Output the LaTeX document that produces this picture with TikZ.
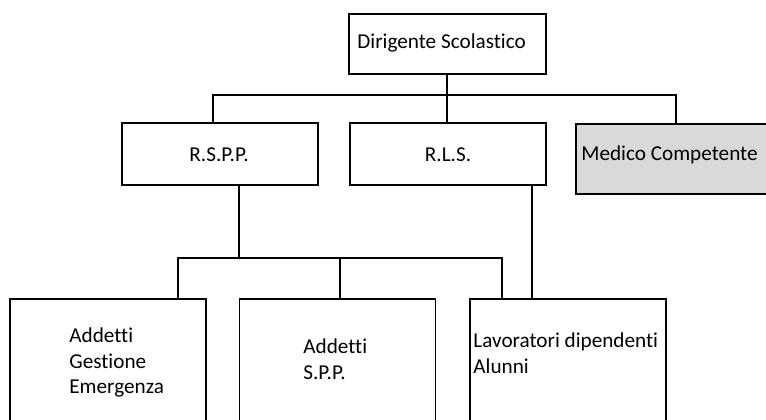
\documentclass[tikz,border=0pt]{standalone}
\usepackage{fontspec}
\setmainfont[Ligatures=NoCommon]{Carlito}
\definecolor{boxgrey}{HTML}{D9D9D9}
\begin{document}
\begin{tikzpicture}[x=0.5pt,y=-0.5pt,
  orgbox/.style={draw=black,line width=0.9pt,fill=white,inner sep=0pt,minimum width=98pt},
  conn/.style={draw=black,line width=0.7pt},
  txt/.style={inner sep=0pt,font=\fontsize{10.6pt}{13pt}\selectfont}]
\clip (0,0) rectangle (766,419);
\fill[white] (0,0) rectangle (766,419);
\coordinate (t1) at (213,95);
\coordinate (t2) at (676,95);
\coordinate (b0) at (239,258);
\coordinate (b1) at (178,258);
\coordinate (b2) at (340,258);
\coordinate (b3) at (502,258);
\coordinate (r) at (532,258);
% boxes
\node[orgbox,minimum width=98.5pt,minimum height=30pt] (dir) at (447.5,44) {};
\node[orgbox,minimum height=31pt] (rspp) at (220,154) {};
\node[orgbox,minimum height=31pt] (rls) at (448,154) {};
\node[orgbox,fill=boxgrey,minimum width=115pt,minimum height=35pt] (med) at (691,159) {};
\node[orgbox,minimum height=70.5pt] (a1) at (108,369.5) {};
\node[orgbox,minimum height=70.5pt] (a2) at (337.5,369.5) {};
\node[orgbox,minimum height=70.5pt] (a3) at (568,369.5) {};
% connectors
\draw[conn] (dir.south -| 447,0) -- (rls.north -| 447,0);
\draw[conn] (t1 |- rspp.north) -- (t1) -- (t2) -- (t2 |- med.north);
\draw[conn] (b0 |- rspp.south) -- (b0);
\draw[conn] (b1 |- a1.north) -- (b1) -- (b3) -- (b3 |- a3.north);
\draw[conn] (b2) -- (b2 |- a2.north);
\draw[conn] (r |- rls.south) -- (r |- a3.north);
% texts
\node[txt,anchor=base west] (tdir) at (357,48) {Dirigente Scolastico};
\node[txt,anchor=base] (trspp) at (219,161) {R.S.P.P.};
\node[txt,anchor=base] (trls) at (448,161) {R.L.S.};
\node[txt,anchor=base west] (tmed) at (581,160) {Medico Competente};
\node[txt,anchor=base west] (ta1a) at (69,342) {Addetti};
\node[txt,anchor=base west] (ta1b) at (69,368) {Gestione};
\node[txt,anchor=base west] (ta1c) at (69,393) {Emergenza};
\node[txt,anchor=base west] (ta2a) at (303,353) {Addetti};
\node[txt,anchor=base west] (ta2b) at (303,379) {S.P.P.};
\node[txt,anchor=base west] (ta3a) at (473,347) {Lavoratori dipendenti};
\node[txt,anchor=base west] (ta3b) at (473,373) {Alunni};
\end{tikzpicture}
\end{document}
